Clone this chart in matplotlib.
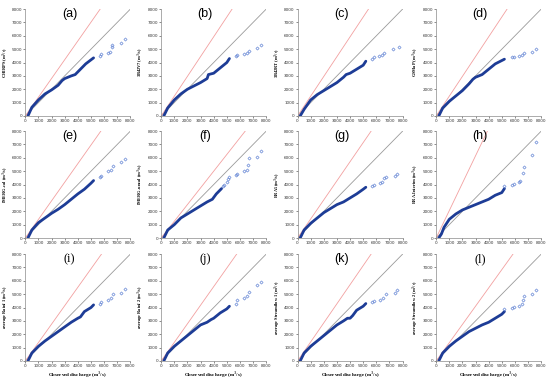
import matplotlib
matplotlib.use("Agg")
import matplotlib.pyplot as plt

# panel letters and y-axis product names
PANELS = ["(a)", "(b)", "(c)", "(d)", "(e)", "(f)", "(g)", "(h)", "(i)", "(j)", "(k)", "(l)"]
YLABELS = ["CHIRPS", "3B42V7", "3B42RT", "GSMaP", "IMERG-cal", "IMERG-uncal",
           "ERA5", "ERA-Interim", "average Rainf 1", "average Rainf 2",
           "average Streamflow 1", "average Streamflow 2"]
# x where the red reference line reaches 8000 (slope of that line)
RED_END = [5700, 5400, 5400, 5400, 5750, 6400, 5600, 3900, 5800, 5750, 5600, 5850]

# dense part of the quantile curves (observed, simulated), m3/s
OBS_DENSE = [
    [200, 500, 1000, 1500, 2000, 2500, 2800, 3000, 3500, 3800, 4000, 4300, 4600, 5000, 5200],
    [200, 500, 1000, 1500, 2000, 2500, 3000, 3500, 3600, 4000, 4500, 5000, 5200],
    [200, 500, 1000, 1500, 2000, 2500, 3000, 3500, 3700, 4000, 4500, 5000, 5200],
    [200, 500, 1000, 1500, 2000, 2500, 2800, 3000, 3500, 4000, 4500, 5000, 5200],
    [200, 500, 1000, 1500, 2000, 2500, 3000, 3500, 4000, 4500, 5000, 5200],
    [200, 500, 1000, 1500, 2000, 2500, 3000, 3500, 3900, 4200, 4500, 4600],
    [200, 500, 1000, 1500, 2000, 2500, 3000, 3500, 4000, 4500, 5000, 5200],
    [200, 400, 600, 800, 1000, 1500, 2000, 2500, 3000, 3500, 4000, 4500, 5000, 5200],
    [200, 500, 1000, 1500, 2000, 2500, 3000, 3500, 4000, 4200, 4500, 5000, 5200],
    [200, 500, 1000, 1500, 2000, 2500, 3000, 3500, 3800, 4000, 4500, 5000, 5200],
    [200, 500, 1000, 1500, 2000, 2500, 3000, 3500, 3800, 4000, 4200, 4500, 5000, 5200],
    [200, 500, 1000, 1500, 2000, 2500, 3000, 3500, 4000, 4500, 5000, 5200],
]
SIM_DENSE = [
    [0, 650, 1200, 1650, 1950, 2300, 2650, 2800, 3000, 3100, 3300, 3600, 3900, 4200, 4350],
    [0, 600, 1200, 1650, 2000, 2250, 2500, 2800, 3100, 3200, 3600, 4000, 4300],
    [0, 500, 1200, 1600, 1900, 2200, 2500, 2900, 3100, 3200, 3500, 3800, 4100],
    [0, 600, 1100, 1500, 1900, 2400, 2750, 2900, 3100, 3500, 3900, 4150, 4250],
    [0, 600, 1150, 1500, 1850, 2150, 2500, 2900, 3300, 3650, 4100, 4300],
    [0, 600, 1000, 1500, 1800, 2100, 2400, 2700, 2900, 3300, 3600, 3700],
    [0, 600, 1100, 1500, 1900, 2200, 2500, 2700, 3000, 3300, 3650, 3800],
    [0, 300, 800, 1100, 1400, 1800, 2100, 2300, 2500, 2700, 2900, 3200, 3400, 3700],
    [0, 600, 1100, 1500, 1850, 2200, 2550, 2900, 3200, 3300, 3700, 4000, 4200],
    [0, 600, 1100, 1500, 1900, 2300, 2700, 2900, 3100, 3200, 3600, 3900, 4100],
    [0, 600, 1100, 1500, 1900, 2300, 2700, 3000, 3200, 3200, 3400, 3800, 4100, 4300],
    [0, 600, 1100, 1500, 1850, 2200, 2450, 2700, 2900, 3200, 3500, 3700],
]
# sparse upper tail
OBS_TAIL = [
    [5700, 5750, 6270, 6470, 6570, 6640, 7310, 7580],
    [5700, 5800, 6300, 6500, 6700, 7300, 7600],
    [5700, 5800, 6200, 6400, 6600, 7300, 7700],
    [5800, 5900, 6300, 6500, 6700, 7300, 7600],
    [5700, 5800, 6300, 6500, 6700, 7300, 7600],
    [4700, 4800, 5000, 5100, 5200, 5700, 5800, 6300, 6500, 6600, 6700, 7300, 7600],
    [5700, 5800, 6300, 6400, 6600, 6700, 7400, 7600],
    [5200, 5800, 5900, 6300, 6400, 6600, 6700, 7300, 7600],
    [5700, 5800, 6300, 6500, 6700, 7300, 7600],
    [5700, 5800, 6300, 6500, 6700, 7300, 7600],
    [5700, 5800, 6300, 6500, 6700, 7400, 7600],
    [5200, 5800, 5900, 6300, 6500, 6600, 6700, 7300, 7600],
]
SIM_TAIL = [
    [4520, 4650, 4720, 4770, 5140, 5320, 5470, 5760],
    [4500, 4600, 4650, 4750, 4900, 5100, 5300],
    [4300, 4400, 4500, 4600, 4750, 5000, 5200],
    [4400, 4450, 4500, 4600, 4700, 4800, 5000],
    [4600, 4650, 5000, 5100, 5400, 5700, 5900],
    [3900, 4000, 4200, 4400, 4550, 4700, 4800, 5000, 5100, 5500, 6000, 6100, 6500],
    [3900, 4000, 4100, 4200, 4500, 4600, 4650, 4800],
    [3900, 4000, 4050, 4200, 4300, 4900, 5300, 6200, 7200],
    [4300, 4450, 4550, 4700, 5000, 5100, 5400],
    [4300, 4600, 4700, 4900, 5200, 5700, 5900],
    [4400, 4500, 4600, 4700, 5000, 5100, 5300],
    [3900, 4000, 4050, 4100, 4300, 4600, 4900, 5000, 5300],
]

LEFTS = [0.046, 0.293, 0.541, 0.793]
BOTTOMS = [0.694, 0.372, 0.0475]
W, H = 0.191, 0.282
SERIF_TITLES = {"(i)", "(j)", "(l)"}


def make():
    fig = plt.figure(figsize=(5.5, 3.79), dpi=100)
    fig.patch.set_facecolor("white")
    for k in range(12):
        r, c = divmod(k, 4)
        ax = fig.add_axes([LEFTS[c], BOTTOMS[r], W, H])
        ax.plot([0, 8000], [0, 8000], color="#9a9a9a", lw=0.6, zorder=1)
        ax.plot([0, RED_END[k]], [0, 8000], color="#f2a0a0", lw=0.6, zorder=1)
        ax.plot(OBS_DENSE[k], SIM_DENSE[k], color="#1d3c96", lw=2.0,
                solid_capstyle="round", zorder=3)
        ax.plot(OBS_TAIL[k], SIM_TAIL[k], ls="none", marker="D", ms=1.6,
                mfc="none", mec="#6a8ad6", mew=0.5, zorder=3)
        ax.set_xlim(0, 8000); ax.set_ylim(0, 8000)
        ax.set_xticks(range(0, 8001, 1000)); ax.set_yticks(range(0, 8001, 1000))
        ax.tick_params(labelsize=3.0, length=1.2, width=0.4, pad=1, colors="#333333")
        for sp in ("top", "right"):
            ax.spines[sp].set_visible(False)
        for sp in ("left", "bottom"):
            ax.spines[sp].set_color("#8a8a8a"); ax.spines[sp].set_linewidth(0.5)
        fam = "Liberation Serif" if PANELS[k] in SERIF_TITLES else "Liberation Sans"
        ax.text(0.42, 0.95, PANELS[k], transform=ax.transAxes, ha="center", va="center",
                fontsize=9, family=fam)
        ax.set_ylabel(YLABELS[k] + " (m$^3$/s)", fontsize=3.2, family="Liberation Serif",
                      fontweight="bold", labelpad=0.8)
        if r == 2:
            ax.set_xlabel("Observed discharge (m$^3$/s)", fontsize=3.6,
                          family="Liberation Serif", fontweight="bold", labelpad=1.5)
    fig.savefig("out.png", dpi=100, facecolor="white")
    plt.close(fig)


if __name__ == "__main__":
    make()
